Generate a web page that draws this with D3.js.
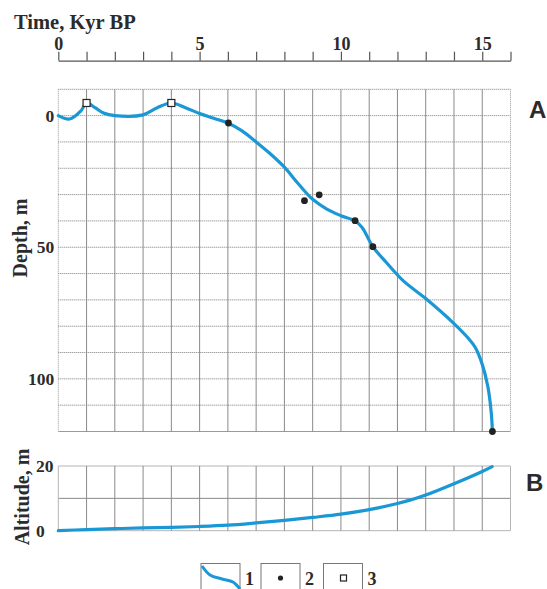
<!DOCTYPE html>
<html>
<head>
<meta charset="utf-8">
<script src="https://cdn.jsdelivr.net/npm/d3@7"></script>
<style>
  html, body { margin: 0; padding: 0; background: #fff; }
  svg { display: block; }
  .serif { font-family: "Liberation Serif", "DejaVu Serif", serif; font-weight: bold; fill: #2b2b2b; }
  .sans { font-family: "Liberation Sans", Arial, sans-serif; font-weight: bold; fill: #2b2b2b; }
</style>
</head>
<body>
<script>
// ---------- data ----------
// Panel A: depth (m) vs time (kyr BP); negative depth = above zero level
const curveATime  = [0, 0.4, 0.8, 1.0, 1.3, 1.6, 2.0, 3.0, 3.5, 4.0, 4.5, 5.0, 5.5, 6.0, 6.5, 7.0, 7.5, 8.0, 8.5, 9.0, 9.5, 10.0, 10.5, 10.75, 11.13, 11.6, 12.2, 13.0, 14.0, 14.5, 14.75, 15.0, 15.2, 15.32, 15.36];
const curveADepth = [0, 1.3, -1.8, -4.8, -3.0, -1.0, 0, -0.3, -3.0, -4.8, -3.0, -0.8, 1.0, 2.8, 5.8, 10, 14.5, 19.6, 26, 31.8, 35.5, 38, 40, 42.5, 49.8, 55.7, 62.7, 69.5, 79, 84.5, 88, 94.5, 103, 113, 120];
// dated points (legend 2)
const dotTime  = [6.02, 8.71, 9.23, 10.5, 11.13, 15.36];
const dotDepth = [2.8, 32.3, 30.1, 39.9, 49.8, 120];
// dated points (legend 3)
const squareTime  = [1.0, 4.0];
const squareDepth = [-4.8, -4.8];
// Panel B: altitude (m) vs time
const curveBTime = [0, 1, 2, 3, 4, 5, 6, 7, 8, 9, 10, 11, 12, 12.5, 13, 14, 15, 15.35];
const curveBAlt  = [0, 0.35, 0.63, 0.85, 1.04, 1.3, 1.7, 2.4, 3.2, 4.1, 5.1, 6.5, 8.4, 9.6, 11, 14.5, 18.3, 19.8];

const timeTicks = d3.range(0, 17);
const timeLabels = [0, 5, 10, 15];
const depthGrid = d3.range(-10, 121, 10);
const depthLabels = [0, 50, 100];
const altGrid = [0, 10, 20];
const altLabels = [0, 20];
const legendLabels = ["1", "2", "3"];

// ---------- setup ----------
const W = 547, H = 589;
const svg = d3.select("body").append("svg").attr("width", W).attr("height", H);

const x = d3.scaleLinear().domain([0, 16]).range([58.3, 510.5]);
const yA = d3.scaleLinear().domain([-10, 120]).range([89.3, 431.5]);
const yB = d3.scaleLinear().domain([0, 20]).range([530.7, 466]);

const blue = "#1a98d5";
const gridCol = "#8a8a8a";

// ---------- top axis ----------
svg.append("text").attr("class", "serif").attr("x", 14).attr("y", 29)
  .attr("font-size", 20.5).text("Time, Kyr BP");

const topAxis = svg.append("g").attr("transform", "translate(0,60.7)")
  .call(d3.axisTop(x).tickValues(timeTicks).tickSize(9).tickSizeOuter(0).tickPadding(2)
    .tickFormat(d => timeLabels.includes(d) ? d : ""));
topAxis.select(".domain").attr("stroke", "#555").attr("stroke-width", 1.2);
topAxis.selectAll(".tick line").attr("stroke", "#555").attr("stroke-width", 1.2);
topAxis.selectAll(".tick text").attr("class", "serif").attr("font-size", 18).attr("fill", "#2b2b2b");

// ---------- panel A grid ----------
const gA = svg.append("g");
gA.selectAll("line.h").data(depthGrid).join("line")
  .attr("x1", x(0)).attr("x2", x(16))
  .attr("y1", d => yA(d)).attr("y2", d => yA(d))
  .attr("stroke", d => d === 120 ? "#9a9a9a" : "#7a7a7a")
  .attr("stroke-width", 1)
  .attr("stroke-dasharray", d => d === 120 ? null : "1,1");
gA.selectAll("line.v").data(timeTicks).join("line")
  .attr("x1", d => x(d)).attr("x2", d => x(d))
  .attr("y1", yA(-10)).attr("y2", yA(120))
  .attr("stroke", d => (d === 0 || d === 16) ? "#9a9a9a" : gridCol)
  .attr("stroke-width", 1)
  .attr("stroke-dasharray", d => (d === 0 || d === 16) ? "1,1" : null);

const axA = svg.append("g").attr("transform", `translate(${x(0)},0)`)
  .call(d3.axisLeft(yA).tickValues(depthLabels).tickSize(0).tickPadding(4));
axA.select(".domain").remove();
axA.selectAll(".tick text").attr("class", "serif").attr("font-size", 17.5).attr("fill", "#2b2b2b");

svg.append("text").attr("class", "serif").attr("font-size", 20)
  .attr("text-anchor", "middle")
  .attr("transform", "translate(27,238) rotate(-90)").text("Depth, m");

svg.append("text").attr("class", "sans").attr("font-size", 24)
  .attr("x", 529).attr("y", 117.5).text("A");

// ---------- panel A data ----------
const lineA = d3.line().x(d => x(d[0])).y(d => yA(d[1])).curve(d3.curveCatmullRom.alpha(0.5));
svg.append("path").datum(curveATime.map((t, i) => [t, curveADepth[i]]))
  .attr("d", lineA).attr("fill", "none").attr("stroke", blue)
  .attr("stroke-width", 3.2).attr("stroke-linecap", "round");

svg.selectAll("circle.dot").data(dotTime.map((t, i) => [t, dotDepth[i]])).join("circle")
  .attr("cx", d => x(d[0])).attr("cy", d => yA(d[1])).attr("r", 3.4).attr("fill", "#222");

const sq = 7;
svg.selectAll("rect.sq").data(squareTime.map((t, i) => [t, squareDepth[i]])).join("rect")
  .attr("x", d => x(d[0]) - sq / 2).attr("y", d => yA(d[1]) - sq / 2)
  .attr("width", sq).attr("height", sq)
  .attr("fill", "#fff").attr("stroke", "#222").attr("stroke-width", 1.2);

// ---------- panel B ----------
const gB = svg.append("g");
gB.selectAll("line.h").data(altGrid).join("line")
  .attr("x1", x(0)).attr("x2", x(16))
  .attr("y1", d => yB(d)).attr("y2", d => yB(d))
  .attr("stroke", d => d === 10 ? "#8a8a8a" : "#b5b5b5").attr("stroke-width", 1);
gB.selectAll("line.v").data(timeTicks).join("line")
  .attr("x1", d => x(d)).attr("x2", d => x(d))
  .attr("y1", yB(20)).attr("y2", yB(0))
  .attr("stroke", d => (d === 0 || d === 16) ? "#b5b5b5" : gridCol).attr("stroke-width", 1);

const axB = svg.append("g").attr("transform", `translate(${x(0)},0)`)
  .call(d3.axisLeft(yB).tickValues(altLabels).tickSize(0));
axB.select(".domain").remove();
axB.selectAll(".tick text").attr("class", "serif").attr("font-size", 17.5).attr("fill", "#2b2b2b")
  .attr("text-anchor", "start").attr("x", 36 - x(0));

svg.append("text").attr("class", "serif").attr("font-size", 20)
  .attr("text-anchor", "middle")
  .attr("transform", "translate(29,497) rotate(-90)").text("Altitude, m");

svg.append("text").attr("class", "sans").attr("font-size", 24)
  .attr("x", 526).attr("y", 490.5).text("B");

const lineB = d3.line().x(d => x(d[0])).y(d => yB(d[1])).curve(d3.curveCatmullRom.alpha(0.5));
svg.append("path").datum(curveBTime.map((t, i) => [t, curveBAlt[i]]))
  .attr("d", lineB).attr("fill", "none").attr("stroke", blue)
  .attr("stroke-width", 3.2).attr("stroke-linecap", "round");

// ---------- legend ----------
const legX = [201, 261, 323.5];
const legG = svg.append("g");
legX.forEach((lx, i) => {
  legG.append("rect").attr("x", lx).attr("y", 563.5).attr("width", 39).attr("height", 40)
    .attr("fill", "#fff").attr("stroke", "#777").attr("stroke-width", 1);
  legG.append("text").attr("class", "serif").attr("font-size", 18)
    .attr("x", lx + 44).attr("y", 584.5).text(legendLabels[i]);
});
legG.append("path")
  .attr("d", d3.line().curve(d3.curveCatmullRom)([[202, 566], [210, 575], [222, 579], [233, 582], [240, 589]]))
  .attr("fill", "none").attr("stroke", blue).attr("stroke-width", 3);
legG.append("circle").attr("cx", legX[1] + 19.5).attr("cy", 578).attr("r", 2.6).attr("fill", "#222");
legG.append("rect").attr("x", legX[2] + 17).attr("y", 575).attr("width", 6).attr("height", 6)
  .attr("fill", "#fff").attr("stroke", "#222").attr("stroke-width", 1.2);
</script>
</body>
</html>
